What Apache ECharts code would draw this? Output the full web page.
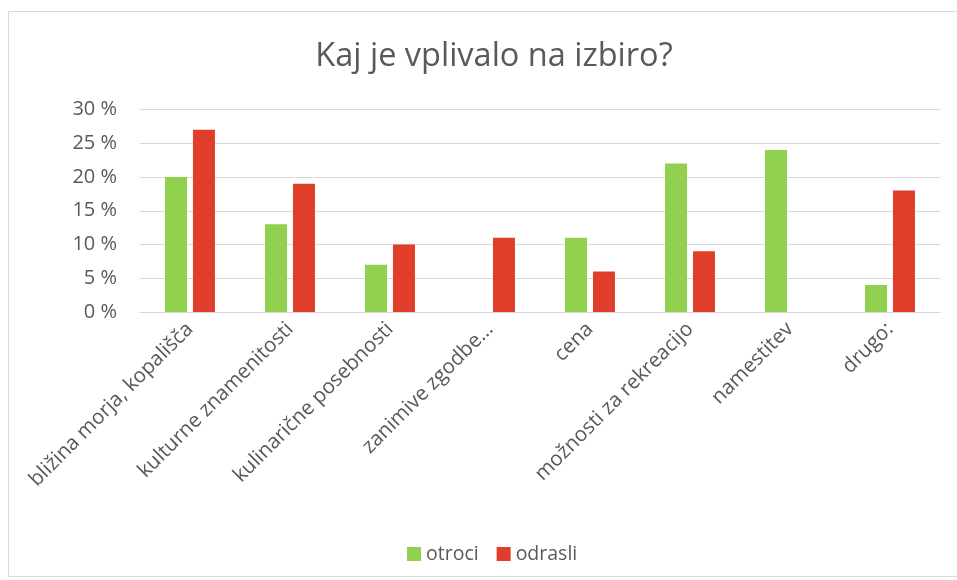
<!DOCTYPE html>
<html>
<head>
<meta charset="utf-8">
<script src="https://cdn.jsdelivr.net/npm/echarts@6/dist/echarts.min.js"></script>
<style>html,body{margin:0;padding:0;background:#fff;}#c{width:957px;height:580px;}</style>
</head>
<body>
<div id="c"></div>
<script>
const categories = ['bližina morja, kopališča','kulturne znamenitosti','kulinarične posebnosti','zanimive zgodbe…','cena','možnosti za rekreacijo','namestitev','drugo:'];
const otroci = [20, 13, 7, 0, 11, 22, 24, 4];
const odrasli = [27, 19, 10, 11, 6, 9, 0, 18];
const yTicks = [0, 5, 10, 15, 20, 25, 30];

const font = 'Open Sans';
const grey = '#595959';
const chart = echarts.init(document.getElementById('c'), null, {renderer:'canvas'});
chart.setOption({
  animation: false,
  textStyle: {fontFamily: font},
  graphic: [{
    type: 'rect', shape: {x: 8.5, y: 11.5, width: 960, height: 565},
    style: {fill: 'none', stroke: '#d9d9d9', lineWidth: 1}, silent: true
  }],
  title: {
    text: 'Kaj je vplivalo na izbiro?', left: 489, top: 35, textAlign: 'center',
    textStyle: {fontFamily: font, fontSize: 32.5, fontWeight: 'normal', color: grey}
  },
  legend: {
    left: 402, top: 539, itemWidth: 14, itemHeight: 14, itemGap: 18, itemTextGap: 6,
    icon: 'rect',
    textStyle: {fontFamily: font, fontSize: 19.5, color: grey},
    data: ['otroci', 'odrasli']
  },
  grid: {left: 140, right: 17, top: 109.5, bottom: 268},
  xAxis: {
    type: 'category', data: categories,
    axisLine: {lineStyle: {color: '#d9d9d9', width: 1}},
    axisTick: {show: false},
    axisLabel: {rotate: 45, interval: 0, margin: 14, fontFamily: font, fontSize: 20.5, color: grey}
  },
  yAxis: {
    type: 'value', min: yTicks[0], max: yTicks[yTicks.length-1], interval: 5,
    axisLine: {show: false}, axisTick: {show: false},
    splitLine: {lineStyle: {color: '#d9d9d9', width: 1}},
    axisLabel: {formatter: '{value} %', margin: 23, fontFamily: font, fontSize: 20, color: grey}
  },
  series: [
    {name: 'otroci', type: 'bar', data: otroci, barWidth: 22, barGap: '27%',
     itemStyle: {color: '#92D050'}},
    {name: 'odrasli', type: 'bar', data: odrasli, barWidth: 22,
     itemStyle: {color: '#E03E2A'}}
  ]
});
</script>
</body>
</html>
